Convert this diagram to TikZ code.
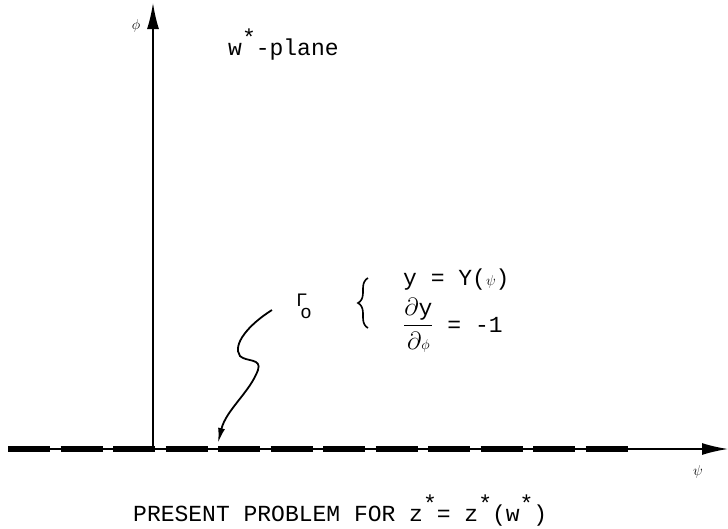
\documentclass[tikz,border=0pt]{standalone}
\usepackage{amsmath}
\usepackage{fontspec}
\setmainfont{Liberation Mono}
\usetikzlibrary{arrows.meta, decorations.pathreplacing, positioning}
\newcommand{\upstar}{\raisebox{0.4em}{*}}
\newcommand{\gk}[1]{{\fontsize{15}{15}\selectfont$#1$}}
\tikzstyle{axis} = [line width=1.6pt, -{Latex[length=26pt,width=12pt]}]
\tikzstyle{boundary} = [line width=5.5pt, dash pattern=on 42pt off 10.5pt]
\tikzstyle{txt} = [inner sep=0pt, font=\fontsize{23}{27}\selectfont]
\tikzstyle{pointer} = [line width=1.8pt, -{Latex[length=15pt,width=7pt]}]

\begin{document}
\begin{tikzpicture}[x=1pt, y=-1pt]
  \useasboundingbox (0,0) rectangle (728,528);
  \coordinate (origin) at (153,449);
  \coordinate (hleft) at (8,449);
  \coordinate (dashend) at (637,449);
  \coordinate (hend) at (728,449);
  \coordinate (vend) at (153,3);

  \draw [boundary] (hleft) -- (dashend);
  \draw [axis] (hleft) -- (hend);
  \draw [axis] (origin) -- (vend);

  \node (phi) [txt] at (136,26) {\gk{\phi}};
  \node (psi) [txt] at (698,472) {\gk{\psi}};
  \node (plane) [txt, anchor=base west] at (228,55) {w\upstar-plane};

  \node (gamma) [txt, font=\fontsize{19}{22}\selectfont, anchor=base west] at (296,306)
    {Γ\kern-0.38em\raisebox{-0.65em}{o}};
  \coordinate (bracebot) at (368,328);
  \coordinate (bracetop) at (368,278);
  \draw [line width=1.6pt, decorate, decoration={brace, amplitude=10pt}] (bracebot) -- (bracetop);
  \node (eqa) [txt, anchor=base west] at (403,285) {y = Y(\gk{\psi})};
  \node (eqb) [txt, anchor=base west] at (403,332) {$\dfrac{\partial\text{y}}{\partial\text{\gk{\phi}}}$ = -1};

  \coordinate (gtail) at (272,310);
  \coordinate (gtip) at (218,443);
  \draw [pointer] (gtail) .. controls (248,325) and (232,345) .. (240,356)
    .. controls (246,362) and (262,358) .. (258,370)
    .. controls (250,392) and (226,410) .. (gtip);

  \node (caption) [txt, anchor=base west] at (133,521) {PRESENT PROBLEM FOR z\upstar= z\upstar(w\upstar)};
\end{tikzpicture}
\end{document}
